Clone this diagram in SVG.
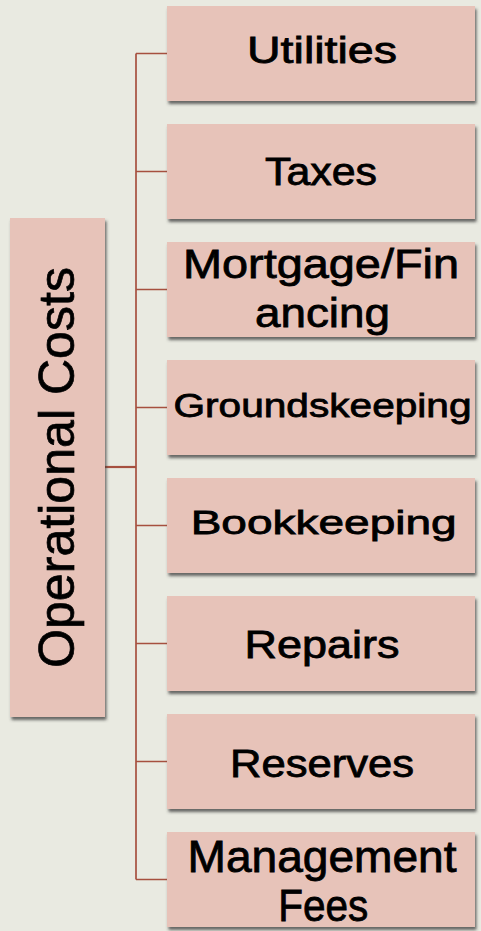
<svg xmlns="http://www.w3.org/2000/svg" width="481" height="931" viewBox="0 0 481 931">
<defs>
<filter id="sh" x="-10%" y="-10%" width="125%" height="130%">
<feDropShadow dx="1.5" dy="3" stdDeviation="1.4" flood-color="#3a3a3a" flood-opacity="0.75"/>
</filter>
<style>
.box{fill:#e7c3b9;filter:url(#sh);}
.t{font-family:"Liberation Sans",Arial,sans-serif;fill:#000;text-anchor:middle;stroke:#000;stroke-width:0.8;}
.c{stroke:#a6503f;stroke-width:1.7;fill:none;}
</style>
</defs>
<rect x="0" y="0" width="481" height="931" fill="#e9eae1"/>
<g id="connectors">
<path class="c" d="M136 53.5 V879.5"/>
<path class="c" d="M105 467 H136" style="stroke-width:2.2"/>
<path class="c" d="M136 53.5 H167 M136 171.5 H167 M136 289.5 H167 M136 407.5 H167 M136 525.5 H167 M136 643.5 H167 M136 761.5 H167 M136 879.5 H167"/>
</g>
<g id="root">
<rect class="box" x="10" y="218" width="95" height="499"/>
<text class="t" transform="translate(73.5 467.5) rotate(-90)" x="0" y="0" font-size="50" textLength="401" lengthAdjust="spacingAndGlyphs" style="stroke-width:0.7">Operational Costs</text>
</g>
<g id="utilities">
<rect class="box" x="167" y="6" width="308" height="95"/>
<text class="t" x="322" y="63.3" font-size="37.5" textLength="150" lengthAdjust="spacingAndGlyphs">Utilities</text>
</g>
<g id="taxes">
<rect class="box" x="167" y="124" width="308" height="95"/>
<text class="t" x="321" y="185" font-size="39" textLength="112" lengthAdjust="spacingAndGlyphs">Taxes</text>
</g>
<g id="mortgage">
<rect class="box" x="167" y="242" width="308" height="95"/>
<text class="t" x="321" y="277.7" font-size="41" textLength="276" lengthAdjust="spacingAndGlyphs">Mortgage/Fin</text>
<text class="t" x="322.5" y="327.3" font-size="41" textLength="135" lengthAdjust="spacingAndGlyphs">ancing</text>
</g>
<g id="groundskeeping">
<rect class="box" x="167" y="360" width="308" height="95"/>
<text class="t" x="322.5" y="416.7" font-size="33.5" textLength="298" lengthAdjust="spacingAndGlyphs">Groundskeeping</text>
</g>
<g id="bookkeeping">
<rect class="box" x="167" y="478" width="308" height="95"/>
<text class="t" x="323.7" y="534.3" font-size="34" textLength="266" lengthAdjust="spacingAndGlyphs">Bookkeeping</text>
</g>
<g id="repairs">
<rect class="box" x="167" y="596" width="308" height="95"/>
<text class="t" x="322" y="658" font-size="38" textLength="155" lengthAdjust="spacingAndGlyphs">Repairs</text>
</g>
<g id="reserves">
<rect class="box" x="167" y="714" width="308" height="95"/>
<text class="t" x="322" y="776.5" font-size="38" textLength="184" lengthAdjust="spacingAndGlyphs">Reserves</text>
</g>
<g id="management">
<rect class="box" x="167" y="832" width="308" height="95"/>
<text class="t" x="322" y="871.7" font-size="44" textLength="269" lengthAdjust="spacingAndGlyphs">Management</text>
<text class="t" x="323.3" y="920.7" font-size="44" textLength="90" lengthAdjust="spacingAndGlyphs">Fees</text>
</g>
</svg>
